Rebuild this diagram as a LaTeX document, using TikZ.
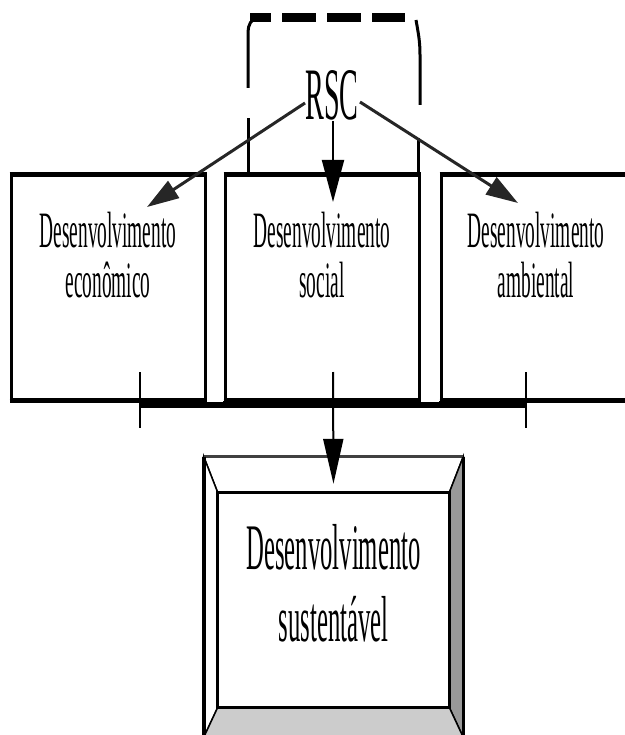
\documentclass[tikz,border=0pt]{standalone}
\usepackage{fontspec}
\setmainfont{Liberation Serif}
\usetikzlibrary{arrows.meta,positioning}

\newcommand{\squeeze}[1]{\scalebox{0.38}[1]{#1}}

\tikzset{
    pillar/.style={draw, line width=3pt, minimum width=194pt, minimum height=223pt, inner sep=0pt},
    pillartext/.style={anchor=north, inner sep=0pt, align=center, font=\fontsize{51}{50}\selectfont},
    rscline/.style={line width=3pt, black!85, -{Triangle[length=32pt,width=20pt]}},
}

\begin{document}
\begin{tikzpicture}[x=1pt,y=-1pt]
            \useasboundingbox (0,0) rectangle (624,735);

            % barra de base
            \coordinate (barL) at (140,404);
            \coordinate (barR) at (526,404);
            \draw[line width=7pt] (barL) -- (barR);
            \fill[white] (206,176) rectangle (223,402);
            \fill[white] (421,176) rectangle (439,402);

            \node[
                pillar,
                name=eco
            ] at (108,287.5) {};
            \node[
                pillar,
                name=soc
            ] at (322,287.5) {};
            \node[
                pillar,
                name=amb
            ] at (538,287.5) {};

            \draw[line width=5pt] (eco.north west) -- (eco.north east);
            \draw[line width=5pt] (soc.north west) -- (soc.north east);
            \draw[line width=5pt] (amb.north west) -- (amb.north east);
            \draw[line width=4pt] (eco.south west) -- (eco.south east);
            \draw[line width=4pt] (soc.south west) -- (soc.south east);
            \draw[line width=4pt] (amb.south west) -- (amb.south east);

            \node[
                pillartext,
                name=ecotext
            ] at (108,212) {\squeeze{Desenvolvimento}\\\squeeze{econômico}};
            \node[
                pillartext,
                name=soctext
            ] at (322,212) {\squeeze{Desenvolvimento}\\\squeeze{social}};
            \node[
                pillartext,
                name=ambtext
            ] at (536,212) {\squeeze{Desenvolvimento}\\\squeeze{ambiental}};

            % marcas sobre a barra
            \draw[line width=2pt] (barL) ++(0,-32) -- ++(0,56);
            \draw[line width=2pt] (barR) ++(0,-32) -- ++(0,56);

            % moldura da RSC
            \draw[line width=3pt] (248,176) -- (248,118);
            \draw[line width=3pt] (248,88) -- (248,32) to[out=90,in=180] (258,18);
            \draw[line width=9pt, dash pattern=on 34pt off 11pt, dash phase=13pt] (250,18) -- (405,18);
            \draw[line width=3pt] (416,20) to[out=-80,in=90] (420,55) -- (420,105);
            \draw[line width=3pt] (418,138) -- (418,176);

            \node[
                anchor=base,
                inner sep=0pt,
                font=\fontsize{74}{74}\selectfont,
                name=rsc
            ] at (332,120) {\squeeze{RSC}};

            \coordinate (rscL) at (305,103);
            \coordinate (rscR) at (360,102);
            \coordinate (ecotip) at (147,207);
            \coordinate (soctip) at (333,202);
            \coordinate (ambtip) at (518,203);

            \draw[rscline] (rscL) -- (ecotip);
            \draw[rscline] (rscR) -- (ambtip);
            \draw[line width=2pt, -{Triangle[length=42pt,width=22pt]}] (rsc.south -| soctip) -- (soctip);

            % caixa do desenvolvimento sustentavel
            \node[
                minimum width=259pt,
                minimum height=280pt,
                inner sep=0pt,
                name=outer
            ] at (333.5,597) {};
            \node[
                minimum width=231pt,
                minimum height=214pt,
                inner sep=0pt,
                name=inner
            ] at (333.5,600) {};

            \filldraw[fill=white, line width=1.5pt] (outer.north west) -- (outer.north east) -- (inner.north east) -- (inner.north west) -- cycle;
            \filldraw[fill=white, line width=1.5pt] (outer.north west) -- (inner.north west) -- (inner.south west) -- (outer.south west) -- cycle;
            \filldraw[fill=black!40, line width=1.5pt] (outer.north east) -- (outer.south east) -- (inner.south east) -- (inner.north east) -- cycle;
            \filldraw[fill=black!20, line width=1.5pt] (outer.south west) -- (outer.south east) -- (inner.south east) -- (inner.south west) -- cycle;
            \draw[line width=3pt, black!75] (outer.north west) -- (outer.north east);
            \draw[line width=4pt] (outer.north west) -- (outer.south west);
            \draw[line width=3pt] (outer.north east) -- (outer.south east);
            \draw[line width=3pt] (inner.north west) rectangle (inner.south east);

            \node[
                anchor=north,
                inner sep=0pt,
                align=center,
                font=\fontsize{65}{72}\selectfont,
                name=susttext
            ] at (333.5,524) {\squeeze{Desenvolvimento}\\\squeeze{sustentável}};

            \coordinate (mid) at (333,372);
            \draw[line width=2pt, -{Triangle[length=45pt,width=20pt]}, shorten >=9pt] (mid) -- (inner.north);
        \end{tikzpicture}
\end{document}
